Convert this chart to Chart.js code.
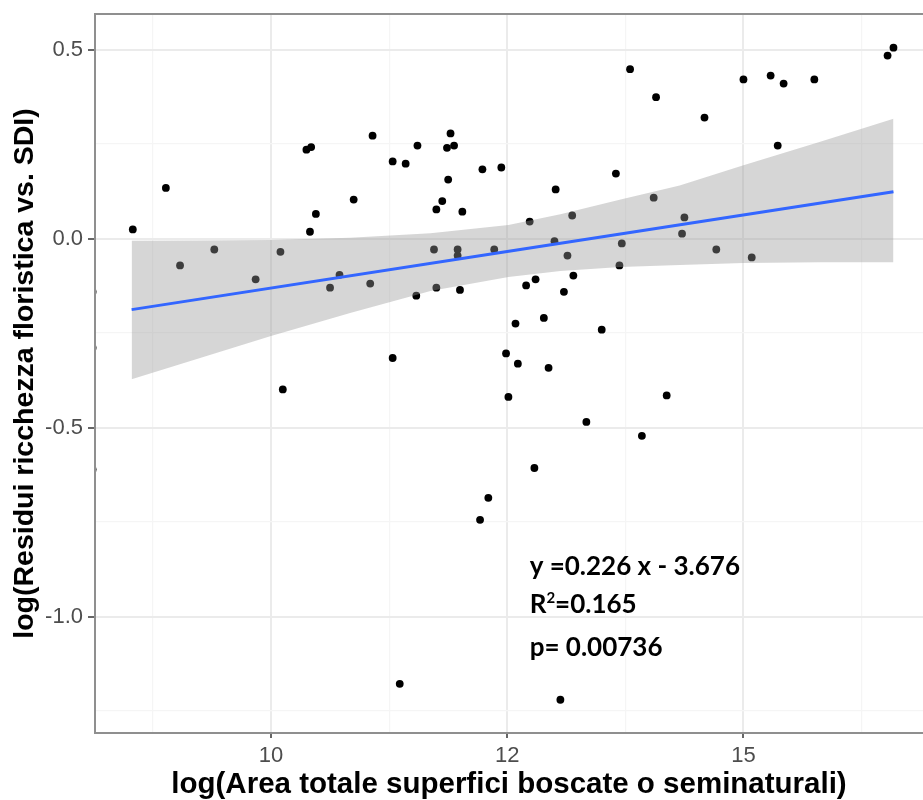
<!DOCTYPE html>
<html>
<head>
<meta charset="utf-8">
<script src="https://cdn.jsdelivr.net/npm/chart.js@4/dist/chart.umd.min.js"></script>
<style>
  body { margin: 0; background: #fff; }
  #wrap { width: 923px; height: 800px; }
</style>
</head>
<body>
<div id="wrap"><canvas id="chart" width="923" height="800"></canvas></div>
<script>
// log(area) on x (axis units; the tick at 14 carries the label "15" as in the picture)
const pointX = [
  8.83, 9.11, 9.23, 9.52, 9.87, 10.08, 10.10, 10.30, 10.34, 10.38,
  10.33, 10.70, 10.86, 11.03, 11.14, 11.24, 11.52, 11.49, 11.55, 11.50,
  11.45, 11.40, 11.62, 11.79, 11.95, 12.41, 12.92, 12.19, 12.55, 10.58,
  10.50, 10.84, 11.23, 11.38, 11.40, 11.58, 11.58, 11.60, 11.89, 12.40,
  12.51, 12.56, 12.16, 12.24, 12.48, 12.07, 12.31, 12.80, 11.03, 11.99,
  12.09, 12.35, 12.01, 13.04, 13.26, 13.67, 14.00, 14.23, 14.34, 14.60,
  14.29, 15.22, 15.27, 13.24, 13.50, 13.48, 12.97, 12.95, 13.77, 14.07,
  13.35, 12.67, 12.23, 11.84, 11.77, 11.09, 12.45, 13.14, 8.49, 8.49,
  8.49
];
const pointY = [
  0.024, 0.134, -0.071, -0.029, -0.108, -0.035, -0.399, 0.235, 0.242, 0.065,
  0.018, 0.103, 0.272, 0.204, 0.198, 0.246, 0.278, 0.240, 0.246, 0.156,
  0.099, 0.077, 0.071, 0.183, 0.188, 0.130, 0.172, 0.045, 0.061, -0.096,
  -0.130, -0.119, -0.151, -0.029, -0.130, -0.029, -0.045, -0.136, -0.029, -0.007,
  -0.045, -0.098, -0.124, -0.108, -0.141, -0.225, -0.210, -0.241, -0.316, -0.304,
  -0.331, -0.342, -0.419, 0.448, 0.374, 0.320, 0.421, 0.431, 0.410, 0.421,
  0.246, 0.484, 0.505, 0.108, 0.056, 0.013, -0.013, -0.071, -0.029, -0.050,
  -0.415, -0.485, -0.607, -0.686, -0.744, -1.178, -1.220, -0.522, -0.141, -0.289,
  -0.611
];

// smoothing line and its confidence band
const fitX = [8.82, 12.00, 15.27];
const fitY = [-0.188, -0.034, 0.124];
const bandX = [8.82, 9.40, 10.0, 10.67, 11.35, 12.01, 12.45, 12.96, 13.46, 14.0, 14.65, 15.27];
const bandUpper = [-0.006, -0.005, -0.004, 0.002, 0.014, 0.036, 0.064, 0.103, 0.140, 0.194, 0.256, 0.317];
const bandLower = [-0.372, -0.316, -0.258, -0.197, -0.139, -0.102, -0.086, -0.075, -0.070, -0.065, -0.063, -0.063];

const xTickValues = [10, 12, 14];
const xTickLabels = ['10', '12', '15'];
const yTickValues = [-1.0, -0.5, 0.0, 0.5];
const yTickLabels = ['-1.0', '-0.5', '0.0', '0.5'];

const annotationLines = ['y =0.226 x - 3.676', 'R2=0.165', 'p= 0.00736'];

const xTitle = 'log(Area totale superfici boscate o seminaturali)';
const yTitle = 'log(Residui ricchezza floristica vs. SDI)';

function findIdx(arr, v) {
  return arr.findIndex(t => Math.abs(t - v) < 1e-6);
}

const toXY = (xs, ys) => xs.map((x, i) => ({x: x, y: ys[i]}));

const tickFont = {family: 'Liberation Sans', size: 22};

const panelBorder = {
  id: 'panelBorder',
  afterDatasetsDraw(chart) {
    const {ctx, chartArea: a} = chart;
    ctx.save();
    ctx.strokeStyle = '#8f8f8f';
    ctx.lineWidth = 2;
    ctx.beginPath();
    ctx.moveTo(a.right + 2, a.top);
    ctx.lineTo(a.left, a.top);
    ctx.lineTo(a.left, a.bottom);
    ctx.lineTo(a.right + 2, a.bottom);
    ctx.stroke();
    ctx.restore();
  }
};

const statsText = {
  id: 'statsText',
  afterDatasetsDraw(chart) {
    const {ctx, scales: {x, y}} = chart;
    const left = x.getPixelForValue(12.19);
    const bases = [-0.890, -0.991, -1.104].map(v => y.getPixelForValue(v));
    ctx.save();
    ctx.fillStyle = '#000';
    ctx.textBaseline = 'alphabetic';
    ctx.textAlign = 'left';
    ctx.font = 'bold 26px Lato';
    ctx.fillText(annotationLines[0], left, bases[0]);
    // R with superscript 2
    ctx.fillText('R', left, bases[1]);
    let w = ctx.measureText('R').width;
    ctx.font = 'bold 15px Lato';
    ctx.fillText('2', left + w, bases[1] - 10);
    w += ctx.measureText('2').width;
    ctx.font = 'bold 26px Lato';
    ctx.fillText(annotationLines[1].slice(2), left + w, bases[1]);
    ctx.fillText(annotationLines[2], left, bases[2]);
    ctx.restore();
  }
};

new Chart(document.getElementById('chart'), {
  data: {
    datasets: [
      {
        type: 'line',
        data: toXY(fitX, fitY),
        borderColor: '#3366FF',
        borderWidth: 3,
        pointRadius: 0,
        fill: false,
        order: 1
      },
      {
        type: 'line',
        data: toXY(bandX, bandLower),
        borderWidth: 0,
        borderColor: 'rgba(0,0,0,0)',
        pointRadius: 0,
        fill: false,
        order: 2
      },
      {
        type: 'line',
        data: toXY(bandX, bandUpper),
        borderWidth: 0,
        borderColor: 'rgba(0,0,0,0)',
        backgroundColor: 'rgba(153,153,153,0.4)',
        pointRadius: 0,
        fill: '-1',
        order: 2
      },
      {
        type: 'scatter',
        data: toXY(pointX, pointY),
        backgroundColor: '#000',
        borderWidth: 0,
        pointRadius: 3.9,
        clip: 0,
        order: 3
      }
    ]
  },
  options: {
    responsive: false,
    animation: false,
    layout: {autoPadding: false, padding: {top: 14, left: 0, right: 0, bottom: 0}},
    plugins: {legend: {display: false}, tooltip: {enabled: false}},
    scales: {
      x: {
        type: 'linear',
        min: 8.51,
        max: 15.52,
        border: {display: false},
        grid: {
          color: c => findIdx(xTickValues, c.tick.value) >= 0 ? '#ebebeb' : '#f5f5f5',
          lineWidth: c => findIdx(xTickValues, c.tick.value) >= 0 ? 2 : 1.2,
          tickColor: c => findIdx(xTickValues, c.tick.value) >= 0 ? '#333' : 'rgba(0,0,0,0)',
          tickWidth: 1.5,
          tickLength: 5
        },
        ticks: {
          stepSize: 1,
          includeBounds: false,
          autoSkip: false,
          maxRotation: 0,
          padding: 5,
          color: '#4d4d4d',
          font: tickFont,
          callback: v => {
            const i = findIdx(xTickValues, v);
            return i >= 0 ? xTickLabels[i] : '';
          }
        },
        title: {
          display: true, text: xTitle, color: '#000',
          font: {family: 'Liberation Sans', size: 29.5, weight: 'bold', lineHeight: 1},
          padding: {top: 0, bottom: 0}
        },
        afterFit: s => { s.height = 67; s.paddingLeft = 0; s.paddingRight = 0; }
      },
      y: {
        type: 'linear',
        min: -1.308,
        max: 0.594,
        border: {display: false},
        grid: {
          color: c => findIdx(yTickValues, c.tick.value) >= 0 ? '#ebebeb' : '#f5f5f5',
          lineWidth: c => findIdx(yTickValues, c.tick.value) >= 0 ? 2 : 1.2,
          tickColor: c => findIdx(yTickValues, c.tick.value) >= 0 ? '#333' : 'rgba(0,0,0,0)',
          tickWidth: 1.5,
          tickLength: 7
        },
        ticks: {
          stepSize: 0.25,
          includeBounds: false,
          autoSkip: false,
          padding: 5,
          color: '#4d4d4d',
          font: tickFont,
          callback: v => {
            const i = findIdx(yTickValues, v);
            return i >= 0 ? yTickLabels[i] : '';
          }
        },
        title: {
          display: true, text: yTitle, color: '#000',
          font: {family: 'Liberation Sans', size: 28.5, weight: 'bold', lineHeight: 1},
          padding: {top: 11, bottom: 0}
        },
        afterFit: s => { s.width = 95; s.paddingTop = 0; s.paddingBottom = 0; }
      }
    }
  },
  plugins: [panelBorder, statsText]
});
</script>
</body>
</html>
